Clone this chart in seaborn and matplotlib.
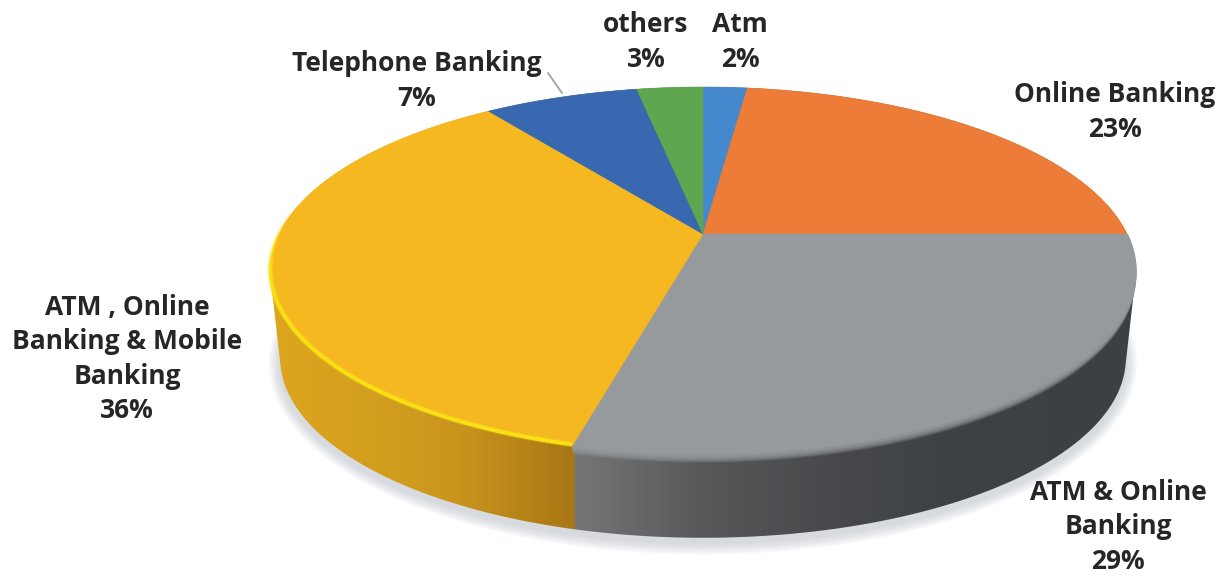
import numpy as np
import seaborn as sns
import matplotlib
matplotlib.use("Agg")
import matplotlib.pyplot as plt
from matplotlib.path import Path
from matplotlib.transforms import Transform

# Survey shares, clockwise from twelve o'clock
channels = ["Atm", "Online Banking", "ATM & Online\nBanking",
            "ATM , Online\nBanking & Mobile\nBanking", "Telephone Banking", "others"]
shares = [2, 23, 29, 36, 7, 3]
slice_colors = ["#4489CE", "#EC7C38", "#979A9C", "#F6B820", "#3869B0", "#5EA650"]

# Label anchor per channel, in figure pixels
label_x = [740, 1115, 1118, 127, 417, 646]
label_y = [42, 112, 527, 359, 81, 42]

W, H = 1223, 577
CX, CY, RX, RY, TILT = 703.0, 234.0, 424.0, 176.4, 0.2
DISC_MID_Y, WALL_SCALE, WALL_MID_Y = 270.5, 0.977, 358.0


class TiltedDisc(Transform):
    """Projects the unit pie onto a receding plane, in pixel coordinates."""
    input_dims = 2
    output_dims = 2
    is_separable = False
    has_inverse = False

    def transform_non_affine(self, values):
        values = np.asarray(values, float)
        w = 1 + TILT * values[:, 1]
        return np.column_stack((CX + RX * values[:, 0] / w,
                                CY - RY * values[:, 1] / w))

    def transform_path_non_affine(self, path):
        # Flatten the Bezier arcs first: straight segments survive projection
        big = Path(path.vertices * 4000, path.codes)
        poly = big.to_polygons(closed_only=True)[0] / 4000
        return Path(self.transform_non_affine(poly))


def rim(angles, depth=0.0):
    """Edge points of the disc at clockwise angles, lowered by depth (0 top, 1 base)."""
    pts = TiltedDisc().transform_non_affine(
        np.column_stack((np.sin(angles), np.cos(angles))))
    scale = 1 + (WALL_SCALE - 1) * depth
    mid_y = DISC_MID_Y + (WALL_MID_Y - DISC_MID_Y) * depth
    return np.column_stack((CX + scale * (pts[:, 0] - CX),
                            mid_y + scale * (pts[:, 1] - DISC_MID_Y)))


def outline(points):
    """Convex outline of a point set (monotone chain)."""
    pts = sorted(map(tuple, points))

    def half(seq):
        out = []
        for p in seq:
            while len(out) > 1 and ((out[-1][0] - out[-2][0]) * (p[1] - out[-2][1])
                                    - (out[-1][1] - out[-2][1]) * (p[0] - out[-2][0])) <= 0:
                out.pop()
            out.append(p)
        return out[:-1]

    return np.array(half(pts) + half(pts[::-1]))


sns.set_theme(style="white")
plt.rcParams["font.family"] = ["Open Sans", "DejaVu Sans"]

fig = plt.figure(figsize=(W / 100, H / 100), dpi=100, facecolor="white")
ax = fig.add_axes([0, 0, 1, 1])

bounds = np.radians(np.cumsum([0] + shares) * 3.6)
full = np.linspace(0, 2 * np.pi, 361)[:-1]

# Soft ground shadow under the base
base = rim(full, 1.0)
for grow in range(1, 15):
    sx = 1 + grow / 520
    sy = 1 + grow / 210
    ax.fill(CX + (base[:, 0] - CX) * sx,
            WALL_MID_Y + 5 + (base[:, 1] - WALL_MID_Y) * sy,
            color="#BFC4CC", alpha=0.055, lw=0, zorder=0)

# Side wall: one horizontal gradient per visible slice, clipped to the solid's outline
hull = outline(np.vstack([rim(full, d) for d in (0, 0.25, 0.5, 0.75, 1.0)]))
seam_x = rim(np.array([bounds[3]]), 0.5)[0, 0]
columns = np.arange(W)
channel = [np.interp(columns,
                     [270, 350, 450, seam_x - 15, seam_x, seam_x + 1, 700, 840, 950, 1140],
                     stops)
           for stops in ([222, 214, 204, 172, 168, 116, 86, 70, 63, 60],
                         [166, 160, 150, 122, 118, 118, 88, 72, 66, 64],
                         [30, 30, 30, 22, 20, 120, 90, 75, 69, 66])]
gradient = np.stack(channel, axis=-1)[None, :, :] / 255
wall = ax.imshow(gradient, extent=(0, W, H, 0), aspect="auto", zorder=1)
wall.set_clip_path(Path(np.vstack([hull, hull[:1]]), closed=True), transform=ax.transData)

# Rounded bevel where the grey wall meets the top face
grey_arc = np.linspace(bounds[2], bounds[3], 200)
for step in np.linspace(0.10, 0.0, 10):
    edge = rim(grey_arc, step)
    ax.plot(edge[:, 0], edge[:, 1], color="#979A9C", lw=1.4,
            alpha=0.85 * (1 - step / 0.10) ** 0.8, zorder=2, solid_capstyle="butt")

# Pie top face, drawn from the shares and bent onto the receding plane
wedges, _ = ax.pie(shares, colors=slice_colors, startangle=90, counterclock=False,
                   wedgeprops={"linewidth": 0.4})
disc = TiltedDisc()
for wedge, color in zip(wedges, slice_colors):
    wedge.set_transform(disc + ax.transData)
    wedge.set_edgecolor(color)
    wedge.set_zorder(3)

# Bright lip along the yellow slice's front edge, fading out towards the back
lip_arc = np.linspace(bounds[3], np.radians(278), 160)
lip = rim(lip_arc, 0.0)
lip[:, 1] -= 1.5
for i in range(len(lip) - 1):
    fade = min(1.0, (len(lip) - 1 - i) / 40)
    for lw, alpha in ((4.2, 0.3), (2.6, 0.95)):
        ax.plot(lip[i:i + 2, 0], lip[i:i + 2, 1], color="#F8E414", lw=lw * (0.55 + 0.45 * fade),
                alpha=alpha * fade, zorder=4, solid_capstyle="butt")

# Leader line for the telephone banking label
ax.plot([548, 562], [73, 93], color="#A6A6A6", lw=1.4, zorder=4)

# Channel names with their percentages
for name, share, x, y in zip(channels, shares, label_x, label_y):
    ax.text(x, y, f"{name}\n{share}%", ha="center", va="center", fontsize=19,
            fontweight="bold", color="#262626", linespacing=1.36, zorder=5)

ax.set_aspect("auto")
ax.set_xlim(0, W)
ax.set_ylim(H, 0)
ax.axis("off")
fig.savefig("out.png", dpi=100, facecolor="white")
